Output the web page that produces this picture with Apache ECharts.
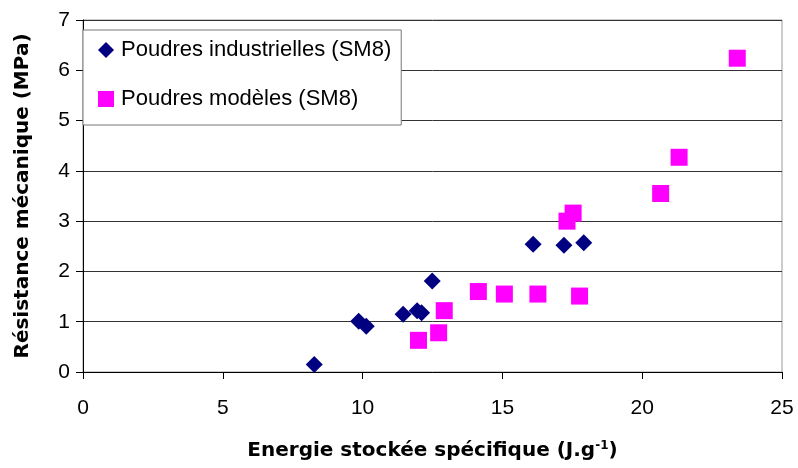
<!DOCTYPE html>
<html lang="fr">
<head>
    <meta charset="UTF-8">
    <title>Résistance mécanique</title>
    <script src="https://cdnjs.cloudflare.com/ajax/libs/echarts/6.0.0/echarts.min.js"></script>
</head>
<body style="margin:0;background:#fff">
<div id="main" style="width:798px;height:468px;"></div>
<script type="text/javascript">
    // valeurs
    var industEnergie = [8.27, 9.86, 10.13, 11.45, 11.95, 12.11, 12.49, 16.1, 17.2, 17.91];
    var industResist = [0.15, 1.01, 0.91, 1.15, 1.22, 1.18, 1.81, 2.54, 2.52, 2.57];
    var modeleEnergie = [12.0, 12.72, 12.92, 14.14, 15.07, 16.27, 17.76, 17.31, 17.53, 20.66, 21.32, 23.4];
    var modeleResist = [0.63, 0.78, 1.22, 1.60, 1.55, 1.55, 1.51, 3.0, 3.16, 3.55, 4.27, 6.24];
    var xTicks = [0, 5, 10, 15, 20, 25];
    var yTicks = [0, 1, 2, 3, 4, 5, 6, 7];

    function pairs(xs, ys) {
        return xs.map(function (x, i) {
            return [x, ys[i]];
        });
    }

    var myChart = echarts.init(document.getElementById('main'));
    var font = '"Liberation Sans", Arial, sans-serif';
    var boldFont = '"DejaVu Sans", sans-serif';

    var option = {
        backgroundColor: '#fff',
        animation: false,
        textStyle: {fontFamily: font},
        grid: {
            left: 83, right: 16, top: 20, bottom: 96,
            show: true, borderColor: '#999', borderWidth: 1
        },
        legend: {
            orient: 'vertical',
            left: 83, top: 30,
            padding: [9, 10, 15, 15],
            itemWidth: 16, itemHeight: 16,
            itemGap: 27,
            backgroundColor: '#fff',
            borderColor: '#777', borderWidth: 1,
            textStyle: {fontSize: 22, color: '#000', fontFamily: font, padding: [0, 0, 0, 2]},
            data: ['Poudres industrielles (SM8)', 'Poudres modèles (SM8)']
        },
        xAxis: {
            type: 'value',
            min: xTicks[0], max: xTicks[xTicks.length - 1], interval: 5,
            name: '{a|Energie stockée spécifique (J.g}{s|-1}{a|)}',
            nameLocation: 'middle', nameGap: 68,
            nameTextStyle: {
                rich: {
                    a: {fontSize: 20, fontWeight: 'bold', color: '#000', fontFamily: boldFont},
                    s: {fontSize: 12, fontWeight: 'bold', color: '#000', fontFamily: boldFont, padding: [0, 0, 10, 0]}
                }
            },
            axisLine: {lineStyle: {color: '#000', width: 1}},
            axisTick: {length: 7, lineStyle: {color: '#000'}},
            axisLabel: {fontSize: 21, color: '#000', margin: 26},
            splitLine: {show: false}
        },
        yAxis: {
            type: 'value',
            min: yTicks[0], max: yTicks[yTicks.length - 1], interval: 1,
            name: 'Résistance mécanique (MPa)',
            nameLocation: 'middle', nameGap: 50,
            nameTextStyle: {fontSize: 20, fontWeight: 'bold', color: '#000', fontFamily: boldFont},
            axisLine: {show: true, lineStyle: {color: '#000', width: 1}},
            axisTick: {show: true, length: 7, lineStyle: {color: '#000'}},
            axisLabel: {fontSize: 21, color: '#000', margin: 13},
            splitLine: {lineStyle: {color: '#333', width: 1}}
        },
        series: [{
            name: 'Poudres industrielles (SM8)',
            type: 'scatter',
            symbol: 'diamond',
            symbolSize: 17,
            itemStyle: {color: '#000080', opacity: 1},
            data: pairs(industEnergie, industResist)
        }, {
            name: 'Poudres modèles (SM8)',
            type: 'scatter',
            symbol: 'rect',
            symbolSize: 17,
            itemStyle: {color: '#ff00ff', opacity: 1},
            data: pairs(modeleEnergie, modeleResist)
        }]
    };
    myChart.setOption(option);
</script>
</body>
</html>
